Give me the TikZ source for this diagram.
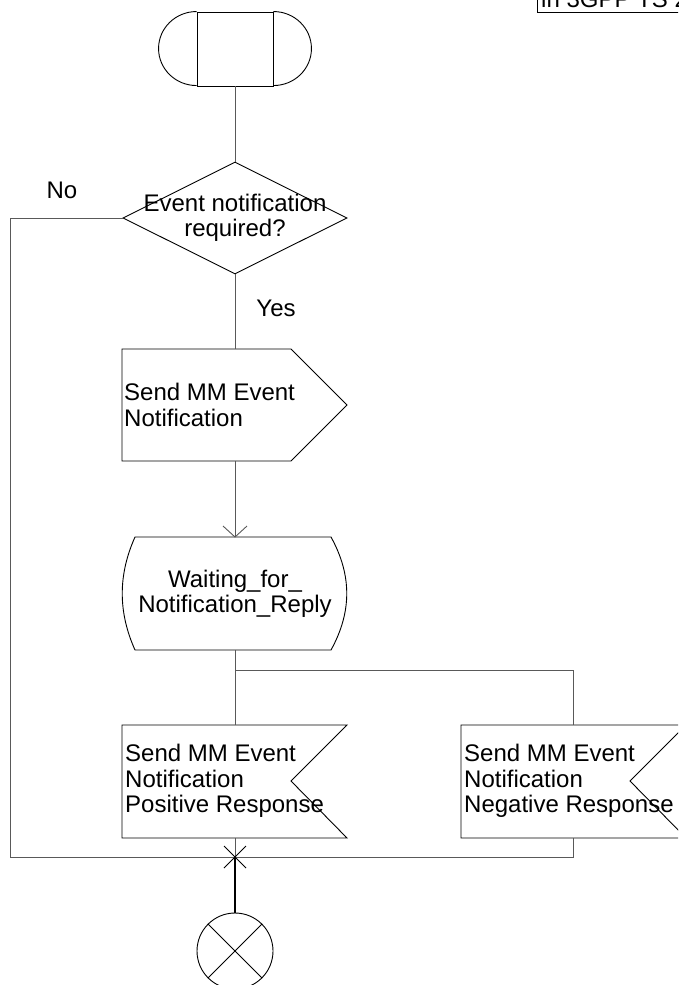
\documentclass[tikz,border=0pt]{standalone}
\usepackage{fontspec}
\setmainfont{Liberation Sans}
\usetikzlibrary{shapes.geometric}
\begin{document}
\begin{tikzpicture}[x=1pt,y=-1pt,
  shp/.style={draw=black,line width=0.9pt},
  con/.style={draw=black!65,line width=0.9pt},
  txt/.style={font=\fontsize{24}{25.5}\selectfont,inner sep=0pt,text=black},
  dot/.style={inner sep=0pt,outer sep=0pt,minimum size=0pt}]
\useasboundingbox (0,0) rectangle (678,985);
\clip (0,0) rectangle (678,985);

% header box (cut off)
\draw[shp] (537,-40) -- (537,12) -- (700,12);
\node[txt,anchor=base west] (hdr) at (541,8) {in 3GPP TS 2};

% start symbol
\node[shp,rectangle,minimum width=76pt,minimum height=74pt,inner sep=0pt] (start) at (235,49) {};
\draw[shp] (start.north west) arc[start angle=-90,end angle=-270,x radius=38,y radius=37];
\draw[shp] (start.north east) arc[start angle=-90,end angle=90,x radius=38,y radius=37];

% decision
\node[shp,diamond,minimum width=224pt,minimum height=112pt,inner sep=0pt] (dec) at (235,218) {};
\node[txt,align=center] (dectxt) at (235,218) {Event notification\\required?};
\node[txt] (no) at (62,190) {No};
\node[txt] (yes) at (276,308) {Yes};

% output signal
\coordinate (outn) at (235,349);
\coordinate (outs) at (235,461);
\draw[shp] (122,349) -- (291,349) -- (347,405) -- (291,461) -- (122,461) -- cycle;
\node[txt,anchor=west,align=left] (outtxt) at (124,405) {Send MM Event\\Notification};

% state
\coordinate (stn) at (235,537);
\coordinate (sts) at (235,650);
\draw[shp] (135,537) -- (331,537) .. controls (352,575) and (352,612) .. (331,650)
  -- (135,650) .. controls (118,612) and (118,575) .. (135,537) -- cycle;
\node[txt,align=center] (sttxt) at (235,594) {Waiting\_for\_\\Notification\_Reply};

% input positive
\coordinate (posn) at (235,725);
\coordinate (poss) at (235,838);
\draw[shp] (122,725) -- (347,725) -- (291,781) -- (347,838) -- (122,838) -- cycle;
\node[txt,anchor=west,align=left] (postxt) at (125,781) {Send MM Event\\Notification\\Positive Response};

% input negative
\coordinate (negn) at (573,725);
\coordinate (negs) at (573,838);
\draw[shp] (461,725) -- (686,725) -- (630,781) -- (686,838) -- (461,838) -- cycle;
\node[txt,anchor=west,align=left] (negtxt) at (464,781) {Send MM Event\\Notification\\Negative Response};

% join and stop
\coordinate (j) at (235,857);
\coordinate (bl) at (10,857);
\coordinate (br) at (235,670);
\node[shp,circle,minimum size=76pt,inner sep=0pt] (stop) at (235,951) {};
\draw[shp] (stop.north west) -- (stop.south east);
\draw[shp] (stop.north east) -- (stop.south west);

% connectors
\draw[con] (start.south) -- (dec.north);
\draw[con] (dec.west) -| (bl) -- (j);
\draw[con] (dec.south) -- (outn);
\draw[con] (outs) -- (stn);
\draw[con] (stn) ++(-12,-11) -- (stn) -- ++(12,-11);
\draw[con] (sts) -- (posn);
\draw[con] (br) -| (negn);
\draw[con] (poss) -- (j);
\draw[con] (negs) |- (j);
\draw[shp] (j) ++(-11,-11) -- ++(22,22);
\draw[shp] (j) ++(-11,11) -- ++(22,-22);
\draw[draw=black,line width=2pt] (j) -- (stop.north);
\end{tikzpicture}
\end{document}
